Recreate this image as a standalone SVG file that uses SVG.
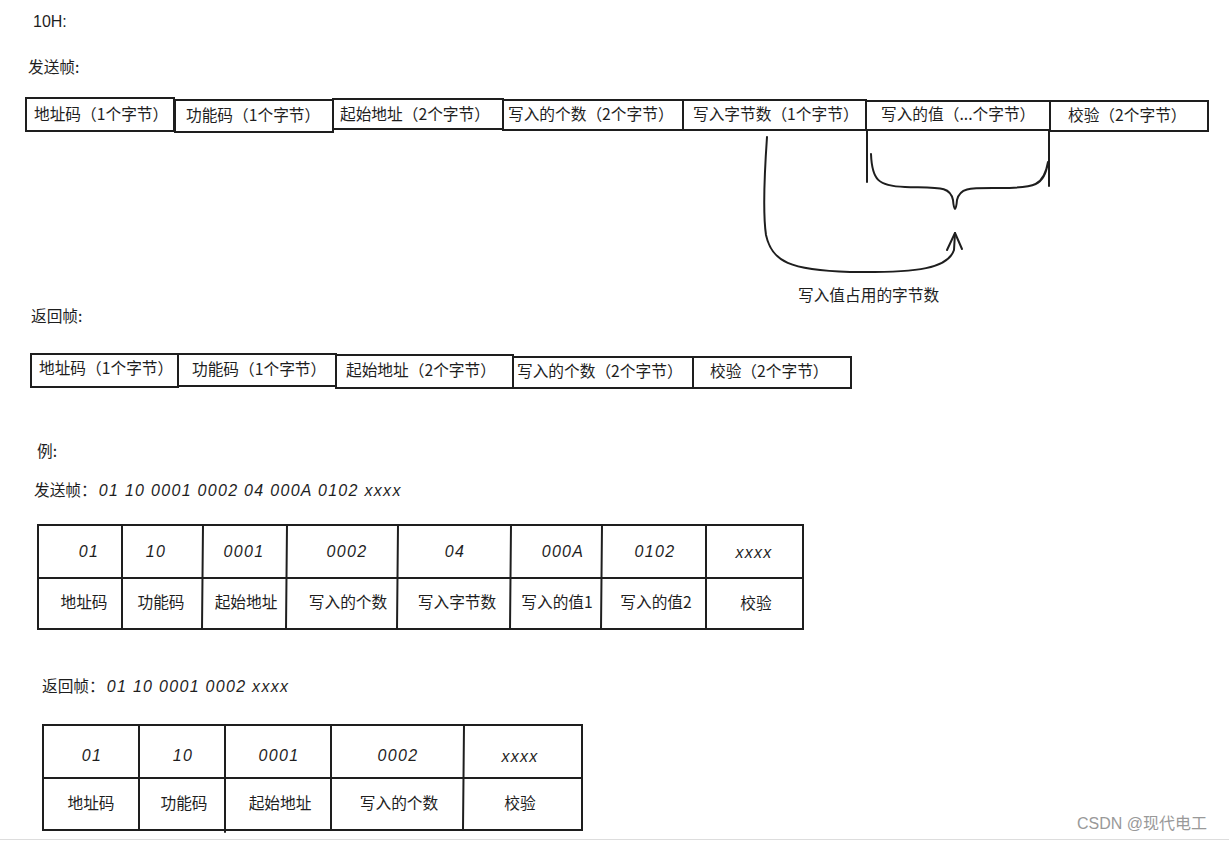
<svg xmlns="http://www.w3.org/2000/svg" width="1229" height="841" viewBox="0 0 1229 841">
<style>
.b{fill:#fff;stroke:#1e1e1e;stroke-width:2}
.l{fill:none;stroke:#1e1e1e;stroke-width:2;stroke-linecap:round;stroke-linejoin:round}
.t{font-family:"Noto Sans CJK SC","Noto Sans",sans-serif;font-size:15.7px;fill:#1e1e1e}
.n{font-family:"Liberation Sans","Noto Sans",sans-serif;font-size:16px;fill:#1e1e1e;font-style:italic;letter-spacing:1.3px}
.m{text-anchor:middle}
</style>
<rect width="1229" height="841" fill="#fff"/>
<g id="titles">
<text class="n" x="33" y="27" font-size="13" style="font-style:normal;letter-spacing:0">10H:</text>
<text class="t" x="28" y="73">发送帧:</text>
<text class="t" x="31" y="322">返回帧:</text>
<text class="t" x="37" y="457">例:</text>
<text class="t" x="34" y="496">发送帧：<tspan class="n" dx="2">01 10 0001 0002 04 000A 0102 xxxx</tspan></text>
<text class="t" x="42" y="692">返回帧：<tspan class="n" dx="2">01 10 0001 0002 xxxx</tspan></text>
</g>
<g id="send-frame">
<g id="s1"><rect class="b" x="26" y="98" width="148" height="33"/><text class="t" x="34" y="120">地址码（1个字节）</text></g>
<g id="s2"><rect class="b" x="175" y="100" width="158" height="32"/><text class="t" x="186" y="121">功能码（1个字节）</text></g>
<g id="s3"><rect class="b" x="333" y="99" width="170" height="30"/><text class="t" x="340" y="120">起始地址（2个字节）</text></g>
<g id="s4"><rect class="b" x="503" y="100" width="180" height="30"/><text class="t" x="508" y="120">写入的个数（2个字节）</text></g>
<g id="s5"><rect class="b" x="683" y="100" width="183" height="30"/><text class="t" x="693" y="120">写入字节数（1个字节）</text></g>
<g id="s6"><rect class="b" x="866" y="101" width="184" height="29"/><text class="t" x="881" y="120">写入的值（...个字节）</text></g>
<g id="s7"><rect class="b" x="1050" y="101" width="158" height="30"/><text class="t" x="1068" y="121">校验（2个字节）</text></g>
</g>
<g id="connectors">
<path class="l" d="M867 131 L867 182"/>
<path class="l" d="M1049 131 L1049 186"/>
<path class="l" d="M871 154 C872 180 878 186 905 187 C940 188 950 186 953 200 C954 212 956 212 957 200 C960 187 970 188 1000 188 C1035 188 1044 186 1048 162"/>
<path class="l" d="M767 137 C764 180 763 215 766 235 C772 262 790 270 850 272 C920 273 948 268 954 250 L955 233"/>
<path class="l" d="M947 250 L955 233 L962 249"/>
<text class="t" x="798" y="301">写入值占用的字节数</text>
</g>
<g id="return-frame">
<g id="r1"><rect class="b" x="31" y="354" width="147" height="33"/><text class="t" x="39" y="374">地址码（1个字节）</text></g>
<g id="r2"><rect class="b" x="178" y="354" width="158" height="32"/><text class="t" x="192" y="375">功能码（1个字节）</text></g>
<g id="r3"><rect class="b" x="336" y="355" width="177" height="33"/><text class="t" x="346" y="376">起始地址（2个字节）</text></g>
<g id="r4"><rect class="b" x="513" y="357" width="180" height="31"/><text class="t" x="517" y="377">写入的个数（2个字节）</text></g>
<g id="r5"><rect class="b" x="693" y="357" width="158" height="31"/><text class="t" x="710" y="377">校验（2个字节）</text></g>
</g>
<g id="table-send">
<rect class="b" x="38" y="525" width="765" height="104"/>
<path class="l" d="M38 578 L803 578 M122 525 L122 629 M203 525 L202 629 M287 525 L286 629 M398 525 L397 629 M511 525 L510 629 M602 525 L601 629 M706 525 L706 629"/>
<g class="n m">
<text x="89" y="557">01</text><text x="156" y="557">10</text><text x="244" y="557">0001</text><text x="347" y="557">0002</text>
<text x="455" y="557">04</text><text x="563" y="557">000A</text><text x="655" y="557">0102</text><text x="754" y="558">xxxx</text>
</g>
<g class="t m">
<text x="84" y="608">地址码</text><text x="161" y="608">功能码</text><text x="246" y="608">起始地址</text><text x="348" y="608">写入的个数</text>
<text x="457" y="608">写入字节数</text><text x="557" y="608">写入的值1</text><text x="656" y="608">写入的值2</text><text x="756" y="609">校验</text>
</g>
</g>
<g id="table-return">
<rect class="b" x="43" y="725" width="539" height="105"/>
<path class="l" d="M43 778 L582 778 M139 725 L139 830 M225 725 L225 832 M331 725 L331 830 M464 725 L463 830"/>
<g class="n m">
<text x="92" y="761">01</text><text x="183" y="761">10</text><text x="279" y="761">0001</text><text x="398" y="761">0002</text><text x="520" y="762">xxxx</text>
</g>
<g class="t m">
<text x="91" y="809">地址码</text><text x="184" y="809">功能码</text><text x="280" y="809">起始地址</text><text x="399" y="809">写入的个数</text><text x="520" y="809">校验</text>
</g>
</g>
<line x1="0" y1="839.5" x2="1229" y2="839.5" stroke="#ddd" stroke-width="1"/>
<text x="1077" y="829" font-family="Liberation Sans,'Noto Sans CJK SC',sans-serif" font-size="16" fill="#999">CSDN @现代电工</text>
</svg>
